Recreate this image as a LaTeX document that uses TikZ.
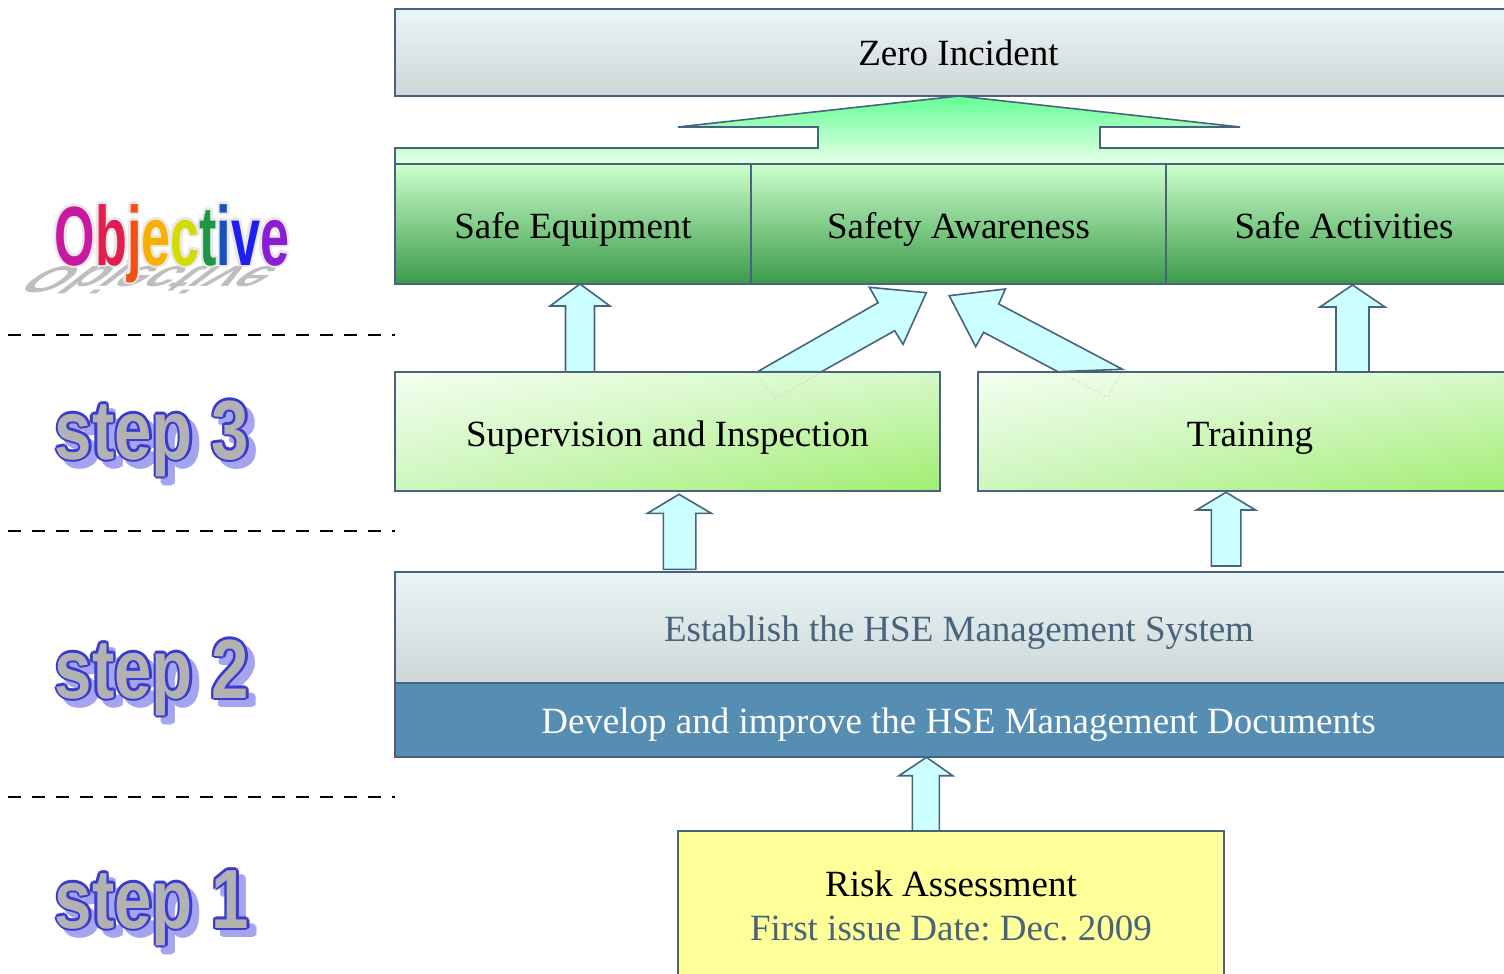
\documentclass[tikz,border=0pt]{standalone}
\usepackage{fontspec}
\setmainfont{Liberation Serif}
\newfontfamily\arialfont{Liberation Sans}
\usetikzlibrary{calc,shadings}
\frenchspacing
\definecolor{bordc}{RGB}{72,100,124}
\definecolor{arrfill}{RGB}{204,255,255}
\definecolor{grayTop}{RGB}{234,245,245}
\definecolor{grayBot}{RGB}{205,214,216}
\definecolor{greenTop}{RGB}{204,255,204}
\definecolor{greenBot}{RGB}{58,154,72}
\definecolor{bigTop}{RGB}{100,255,150}
\definecolor{bigBot}{RGB}{232,255,232}
\definecolor{devfill}{RGB}{86,141,178}
\definecolor{slatetext}{RGB}{72,100,124}
\definecolor{riskfill}{RGB}{255,255,153}
\definecolor{lgA}{RGB}{244,255,240}
\definecolor{lgB}{RGB}{214,248,200}
\definecolor{lgC}{RGB}{206,246,190}
\definecolor{lgD}{RGB}{160,238,112}
\definecolor{stepblue}{RGB}{58,58,208}
\definecolor{stepshadow}{RGB}{164,164,240}
\definecolor{stepgray}{RGB}{178,178,178}
\definecolor{oO}{RGB}{200,26,160}
\definecolor{ob}{RGB}{226,30,80}
\definecolor{oj}{RGB}{240,80,20}
\definecolor{oe}{RGB}{248,176,0}
\definecolor{oc}{RGB}{210,220,0}
\definecolor{ot}{RGB}{30,150,70}
\definecolor{oi}{RGB}{24,80,190}
\definecolor{ov}{RGB}{30,30,240}
\definecolor{oe2}{RGB}{140,30,210}
\definecolor{haloc}{RGB}{232,232,232}
\definecolor{objshadow}{RGB}{190,190,190}
\newcommand\objcolored{\textcolor{oO}{O}\textcolor{ob}{b}\textcolor{oj}{j}\textcolor{oe}{e}\textcolor{oc}{c}\textcolor{ot}{t}\textcolor{oi}{i}\textcolor{ov}{v}\textcolor{oe2}{e}}
\newcommand\objword[1]{\scalebox{0.62}[1]{#1}}
\newcommand\stepword[1]{\scalebox{0.8}[1]{#1}}
\newcommand\mysteplabel[4]{%
  \foreach \dx/\dy in {2.5/0,-2.5/0,0/2.5,0/-2.5,1.8/1.8,1.8/-1.8,-1.8/1.8,-1.8/-1.8}
    \node[stepf,text=stepshadow,anchor=base,xshift=\dx pt+7pt,yshift=\dy pt-7pt] at (#2,#3) {\stepword{#4}};
  \node[stepf,text=stepshadow,anchor=base,xshift=7pt,yshift=-7pt] at (#2,#3) {\stepword{#4}};
  \foreach \dx/\dy in {2.5/0,-2.5/0,0/2.5,0/-2.5,1.8/1.8,1.8/-1.8,-1.8/1.8,-1.8/-1.8}
    \node[stepf,text=stepblue,anchor=base,xshift=\dx pt,yshift=\dy pt] at (#2,#3) {\stepword{#4}};
  \node[stepf,text=stepgray,anchor=base] (#1) at (#2,#3) {\stepword{#4}};
}
\tikzset{
  box/.style={draw=bordc,line width=1.6pt,rectangle,inner sep=0pt},
  lbl/.style={font=\fontsize{37}{44}\selectfont,inner sep=0pt,anchor=base},
  blockarrow/.style={fill=arrfill,draw=bordc,line width=1.6pt,line join=miter},
  hidden/.style={draw=gray!45,line width=0.8pt,dotted},
  dashline/.style={draw=black,line width=2.4pt,dash pattern=on 13pt off 11pt},
  stepf/.style={font=\arialfont\bfseries\fontsize{84}{90}\selectfont,inner sep=0pt},
  objf/.style={font=\arialfont\bfseries\fontsize{84}{90}\selectfont,inner sep=0pt},
}
\begin{document}
\begin{tikzpicture}[x=1pt,y=-1pt]
\useasboundingbox (0,0) rectangle (1504,974);
\fill[white] (0,0) rectangle (1504,974);

% ---- top: Zero Incident
\node[box,top color=grayTop,bottom color=grayBot,minimum width=1127pt,minimum height=87pt] (zero) at (958.5,52.5) {};
\node[lbl] (zeroT) at (958.5,66) {Zero Incident};

% ---- big arrow with band
\shade[top color=bigTop,bottom color=bigBot,draw=bordc,line width=1.6pt,line join=miter]
  (395,164) -- (395,148) -- (818,148) -- (818,127) -- (678,127) -- (958.5,96)
  -- (1240,127) -- (1100,127) -- (1100,148) -- (1522,148) -- (1522,164) -- cycle;

% ---- objective row
\node[box,top color=greenTop,bottom color=greenBot,minimum width=356pt,minimum height=120.5pt] (equip) at (573,224) {};
\node[box,top color=greenTop,bottom color=greenBot,minimum width=415pt,minimum height=120.5pt] (aware) at (958.5,224) {};
\node[box,top color=greenTop,bottom color=greenBot,minimum width=356pt,minimum height=120.5pt] (activ) at (1344,224) {};
\node[lbl] (equipT) at (573,238) {Safe Equipment};
\node[lbl] (awareT) at (958.5,238) {Safety Awareness};
\node[lbl] (activT) at (1344,238) {Safe Activities};

% ---- step 3 boxes
\node[box,upper left=lgA,upper right=lgB,lower left=lgC,lower right=lgD,minimum width=545pt,minimum height=119pt] (sup) at (667.5,431.5) {};
\node[box,upper left=lgA,upper right=lgB,lower left=lgC,lower right=lgD,minimum width=544pt,minimum height=119pt] (train) at (1250,431.5) {};
\node[lbl] (supT) at (667.5,446) {Supervision and Inspection};
\node[lbl] (trainT) at (1250,446) {Training};

% ---- step 2 boxes
\node[box,top color=grayTop,bottom color=grayBot,minimum width=1127pt,minimum height=111pt] (estab) at (958.5,627.5) {};
\node[box,fill=devfill,minimum width=1127pt,minimum height=74pt] (dev) at (958.5,720) {};
\node[lbl,text=slatetext] (estabT) at (959,641) {Establish the HSE Management System};
\node[lbl,text=white] (devT) at (958.5,733) {Develop and improve the HSE Management Documents};

% ---- step 1 box
\node[box,fill=riskfill,minimum width=546pt,minimum height=150pt] (risk) at (951,906) {};
\node[lbl] (riskT) at (951,896) {Risk Assessment};
\node[lbl,text=slatetext] (dateT) at (951,940) {First issue Date: Dec. 2009};

% ---- vertical block arrows
\draw[blockarrow] (580,284) -- (610,306) -- (594.5,306) -- (594.5,372) -- (565.5,372) -- (565.5,306) -- (550,306) -- cycle;
\draw[blockarrow] (1352.5,285) -- (1385,307) -- (1369,307) -- (1369,372) -- (1336,372) -- (1336,307) -- (1320,307) -- cycle;
\draw[blockarrow] (679,494.3) -- (711.3,513.3) -- (695.8,513.3) -- (695.8,569.3) -- (663.4,569.3) -- (663.4,513.3) -- (647.4,513.3) -- cycle;
\draw[blockarrow] (1226,492.3) -- (1255.5,510) -- (1240.8,510) -- (1240.8,566) -- (1211.3,566) -- (1211.3,510) -- (1196.6,510) -- cycle;
\draw[blockarrow] (926.5,757.3) -- (952.7,775.7) -- (939.3,775.7) -- (939.3,831) -- (912.3,831) -- (912.3,775.7) -- (899,775.7) -- cycle;

% ---- diagonal block arrows
\draw[blockarrow] (757.5,371.7) -- (878.1,302.7) -- (869.4,287.3) -- (926.3,292.7) -- (903,344.3) -- (894.7,330.7) -- (821.5,371.7) -- cycle;
\draw[hidden] (757.5,374.3) -- (774.5,399) -- (821.5,372.7);
\draw[blockarrow] (1122.5,369.3) -- (998.7,304) -- (1005.4,289) -- (949.2,295.7) -- (975.7,346.7) -- (983.6,332.3) -- (1057.9,371.7) -- cycle;
\draw[hidden] (1062,373) -- (1107.5,397.3) -- (1120.5,373.3);

% ---- dashed separators
\draw[dashline] (8,335) -- (395,335);
\draw[dashline] (8,531) -- (395,531);
\draw[dashline] (8,797) -- (395,797);

% ---- Objective word
\begin{scope}[shift={(166,266)},xslant=1.3,yscale=-0.45]
  \node[objf,text=objshadow,anchor=base,transform shape] (objshad) at (0,0) {\objword{Objective}};
\end{scope}
\foreach \dx/\dy in {2.5/0,-2.5/0,0/2.5,0/-2.5,1.8/1.8,1.8/-1.8,-1.8/1.8,-1.8/-1.8}
  \node[objf,text=haloc,anchor=base,xshift=\dx pt,yshift=\dy pt] at (172,265) {\objword{Objective}};
\node[objf,anchor=base] (obj) at (172,265) {\objword{\objcolored}};

% ---- step labels
\mysteplabel{s3}{152}{459}{step 3}
\mysteplabel{s2}{152}{698}{step 2}
\mysteplabel{s1}{152}{928}{step 1}

\end{tikzpicture}
\end{document}
